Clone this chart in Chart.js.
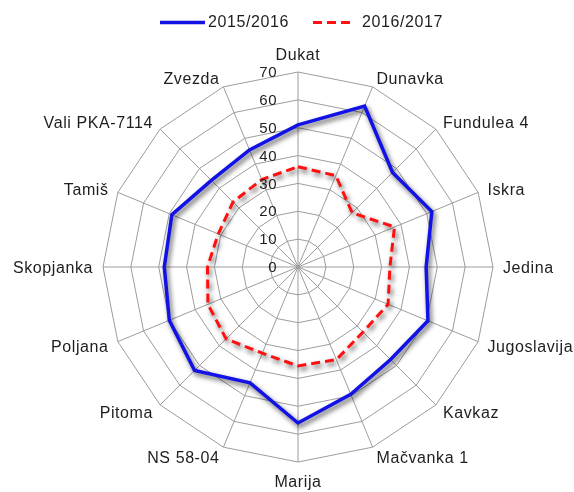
<!DOCTYPE html>
<html>
<head>
<meta charset="utf-8">
<script src="https://cdn.jsdelivr.net/npm/chart.js@4/dist/chart.umd.min.js"></script>
<style>
html,body{margin:0;padding:0;background:#fff;}
canvas{display:block;}
</style>
</head>
<body>
<canvas id="c" width="574" height="492"></canvas>
<script>
const categories = ["Dukat","Dunavka","Fundulea 4","Iskra","Jedina","Jugoslavija","Kavkaz","Mačvanka 1","Marija","NS 58-04","Pitoma","Poljana","Skopjanka","Tamiš","Vali PKA-7114","Zvezda"];
const seriesNames = ["2015/2016","2016/2017"];
const values2015 = [51, 62.5, 48, 52, 46, 50.5, 47, 49.5, 56, 45, 52.5, 50, 48, 49, 44, 45.5];
const values2016 = [36, 35.5, 27.5, 37.5, 33, 35, 33, 36, 35.5, 33.5, 36.5, 35, 32.5, 31, 33, 34];
const tickValues = [0, 10, 20, 30, 40, 50, 60, 70];

const FONT = "'Liberation Sans', Arial, sans-serif";
const TEXT = '#1e1e1e';
const BLUE = '#1212e6';
const RED = '#ff1010';

const shadowPlugin = {
  id: 'shadow',
  beforeDatasetDraw(chart) {
    const ctx = chart.ctx;
    ctx.save();
    ctx.shadowColor = 'rgba(0,0,0,0.65)';
    ctx.shadowBlur = 5;
    ctx.shadowOffsetX = 2;
    ctx.shadowOffsetY = 3;
  },
  afterDatasetDraw(chart) {
    chart.ctx.restore();
  }
};

const labelsPlugin = {
  id: 'customLabels',
  afterDraw(chart) {
    const ctx = chart.ctx;
    const s = chart.scales.r;
    ctx.save();
    // tick labels
    ctx.font = '15px ' + FONT;
    ctx.letterSpacing = '0.5px';
    ctx.fillStyle = TEXT;
    ctx.textAlign = 'right';
    ctx.textBaseline = 'middle';
    tickValues.forEach(v => {
      const d = s.getDistanceFromCenterForValue(v);
      ctx.fillText(String(v), s.xCenter - 21, s.yCenter - d + 1);
    });
    // point labels
    ctx.font = '16px ' + FONT;
    ctx.letterSpacing = '0.6px';
    categories.forEach((lab, i) => {
      const p = s.getPointPosition(i, s.drawingArea + 10);
      const dx = p.x - s.xCenter;
      let y = p.y + 2;
      if (Math.abs(dx) < 1) {
        ctx.textAlign = 'center';
        if (i === 0) y = p.y - 6; else y = p.y + 11;
      } else {
        ctx.textAlign = dx > 0 ? 'left' : 'right';
      }
      ctx.textBaseline = 'middle';
      ctx.fillText(lab, p.x, y);
    });
    // legend
    const ly = 22.5;
    ctx.lineWidth = 3.5;
    ctx.strokeStyle = BLUE;
    ctx.setLineDash([]);
    ctx.beginPath(); ctx.moveTo(160, ly); ctx.lineTo(205, ly); ctx.stroke();
    ctx.strokeStyle = RED;
    ctx.lineWidth = 3;
    ctx.setLineDash([9, 5]);
    ctx.beginPath(); ctx.moveTo(313, ly); ctx.lineTo(355, ly); ctx.stroke();
    ctx.setLineDash([]);
    ctx.textAlign = 'left';
    ctx.textBaseline = 'middle';
    ctx.fillStyle = TEXT;
    ctx.fillText(seriesNames[0], 208, ly);
    ctx.fillText(seriesNames[1], 362, ly);
    ctx.restore();
  }
};

new Chart(document.getElementById('c'), {
  type: 'radar',
  data: {
    labels: categories,
    datasets: [
      { label: seriesNames[0], data: values2015, borderColor: BLUE, borderWidth: 3.5, fill: false, pointRadius: 0, pointHoverRadius: 0, tension: 0 },
      { label: seriesNames[1], data: values2016, borderColor: RED, borderWidth: 3, borderDash: [9, 5], fill: false, pointRadius: 0, pointHoverRadius: 0, tension: 0 }
    ]
  },
  options: {
    responsive: false,
    animation: false,
    devicePixelRatio: 1,
    layout: { padding: { left: 103, right: 81, top: 72, bottom: 30 } },
    plugins: { legend: { display: false }, tooltip: { enabled: false } },
    scales: {
      r: {
        min: 0, max: 70,
        startAngle: 0,
        ticks: { stepSize: 10, display: false },
        grid: { color: '#9c9c9c', lineWidth: 1 },
        angleLines: { color: '#9c9c9c', lineWidth: 1 },
        pointLabels: { display: false }
      }
    }
  },
  plugins: [shadowPlugin, labelsPlugin]
});
</script>
</body>
</html>
